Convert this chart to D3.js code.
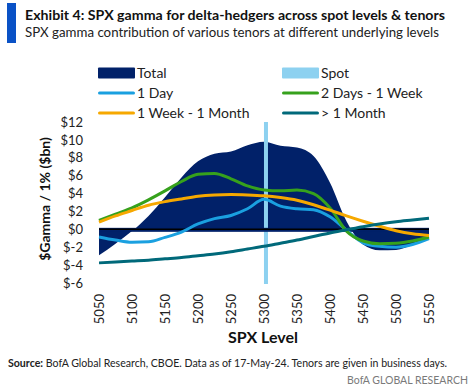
<!DOCTYPE html>
<html>
<head>
<meta charset="utf-8">
<script src="https://cdn.jsdelivr.net/npm/d3@7"></script>
<style>
  body { margin: 0; background: #fff; }
  text { font-family: Lato, "Open Sans", sans-serif; }
</style>
</head>
<body>
<div id="chart"></div>
<script>
// SPX levels (x) and the per-tenor gamma, $bn per 1%
const levels = [5050, 5075, 5100, 5125, 5150, 5175, 5200, 5225, 5250, 5275, 5300,
                5325, 5350, 5375, 5400, 5425, 5450, 5475, 5500, 5525, 5550];
const total = [-2.9, -1.6, -0.2, 1.5, 3.6, 5.8, 7.6, 8.45, 8.7, 9.4, 9.8,
               9.35, 9.15, 8.2, 5.2, 0.9, -1.7, -2.35, -2.3, -1.75, -0.95];
const oneDay = [-0.85, -1.2, -1.45, -1.4, -0.9, -0.3, 0.6, 1.2, 1.55, 2.3, 3.35,
                2.6, 2.3, 2.2, 1.4, -0.1, -1.5, -1.9, -2.0, -1.7, -1.05];
const twoDaysOneWeek = [1.0, 1.7, 2.4, 3.3, 4.3, 5.35, 6.15, 6.25, 5.65, 4.85, 4.4,
                        4.3, 4.4, 4.0, 2.4, -0.2, -1.3, -1.6, -1.55, -1.3, -0.85];
const oneWeekOneMonth = [0.8, 1.5, 2.1, 2.7, 3.1, 3.4, 3.7, 3.85, 3.9, 3.85, 3.75,
                         3.55, 3.25, 2.75, 2.15, 1.5, 0.9, 0.35, -0.15, -0.5, -0.7];
const overOneMonth = [-3.75, -3.65, -3.55, -3.45, -3.3, -3.15, -2.95, -2.75, -2.5, -2.2, -1.9,
                      -1.55, -1.2, -0.8, -0.4, -0.05, 0.3, 0.6, 0.85, 1.05, 1.25];
const spot = 5303;
const yTicks = [-6, -4, -2, 0, 2, 4, 6, 8, 10, 12];
const xTicks = [5050, 5100, 5150, 5200, 5250, 5300, 5350, 5400, 5450, 5500, 5550];

const series = [
    {name: '1 Day', values: oneDay, color: '#1aa0e0'},
    {name: '2 Days - 1 Week', values: twoDaysOneWeek, color: '#36a11c'},
    {name: '1 Week - 1 Month', values: oneWeekOneMonth, color: '#f6a800'},
    {name: '> 1 Month', values: overOneMonth, color: '#00697a'}
];
const navy = '#012169', spotColor = '#8dd1f0';

const width = 473, height = 391;
const svg = d3.select('#chart').append('svg')
    .attr('width', width)
    .attr('height', height);

// header
svg.append('rect').attr('x', 7).attr('y', 3).attr('width', 9).attr('height', 40).attr('fill', '#0a52c6');
svg.append('text').attr('x', 25).attr('y', 20)
    .attr('font-size', 14).attr('font-weight', 'bold').attr('fill', '#111')
    .attr('textLength', 420).attr('lengthAdjust', 'spacingAndGlyphs')
    .text('Exhibit 4: SPX gamma for delta-hedgers across spot levels & tenors');
svg.append('text').attr('x', 25).attr('y', 37)
    .attr('font-size', 14).attr('fill', '#222')
    .attr('textLength', 414).attr('lengthAdjust', 'spacingAndGlyphs')
    .text('SPX gamma contribution of various tenors at different underlying levels');

const x = d3.scaleLinear().domain([5050, 5550]).range([99, 429]);
const y = d3.scaleLinear().domain([-6, 12]).range([283, 122]);

// total area
svg.append('path')
    .datum(levels.map((l, i) => [l, total[i]]))
    .attr('fill', navy)
    .attr('d', d3.area().x(d => x(d[0])).y0(y(0)).y1(d => y(d[1])).curve(d3.curveMonotoneX));

// spot marker
svg.append('line')
    .attr('x1', x(spot)).attr('x2', x(spot))
    .attr('y1', y(12)).attr('y2', y(-6) + 1)
    .attr('stroke', spotColor).attr('stroke-width', 4);

// zero baseline
svg.append('rect')
    .attr('x', x(5050)).attr('width', x(5550) - x(5050))
    .attr('y', y(0) - 1.5).attr('height', 4)
    .attr('fill', navy);
svg.append('line')
    .attr('x1', x(5050)).attr('x2', x(5550))
    .attr('y1', y(0)).attr('y2', y(0))
    .attr('stroke', '#000').attr('stroke-width', 1.5);

const line = d3.line().x(d => x(d[0])).y(d => y(d[1])).curve(d3.curveMonotoneX);
series.forEach(s => {
    svg.append('path')
        .datum(levels.map((l, i) => [l, s.values[i]]))
        .attr('fill', 'none')
        .attr('stroke', s.color)
        .attr('stroke-width', 3)
        .attr('d', line);
});

// y axis
const yAxis = svg.append('g')
    .attr('transform', 'translate(83,0)')
    .call(d3.axisLeft(y).tickValues(yTicks).tickSize(0).tickPadding(0)
        .tickFormat(d => '$' + d));
yAxis.select('.domain').remove();
yAxis.selectAll('text').attr('font-size', 13).attr('fill', '#222')
    .attr('font-family', 'Lato, sans-serif');

svg.append('text')
    .attr('transform', 'translate(50,199) rotate(-90)')
    .attr('text-anchor', 'middle')
    .attr('font-size', 14).attr('font-weight', 'bold').attr('fill', '#111')
    .text('$Gamma / 1% ($bn)');

// x axis
const xAxis = svg.append('g')
    .attr('transform', 'translate(0,294)')
    .call(d3.axisBottom(x).tickValues(xTicks).tickSize(0).tickPadding(0)
        .tickFormat(d3.format('d')));
xAxis.select('.domain').remove();
xAxis.selectAll('text')
    .attr('font-size', 13).attr('fill', '#222')
    .attr('font-family', 'Lato, sans-serif')
    .attr('text-anchor', 'end')
    .attr('transform', 'rotate(-90)')
    .attr('x', 0).attr('y', 0).attr('dy', '0.35em');

svg.append('text')
    .attr('x', 263).attr('y', 343)
    .attr('text-anchor', 'middle')
    .attr('font-size', 16).attr('font-weight', 'bold').attr('fill', '#111')
    .text('SPX Level');

// legend
const legend = [
    {name: 'Total', color: navy, box: true, col: 0, row: 0},
    {name: 'Spot', color: spotColor, box: true, col: 1, row: 0},
    {name: series[0].name, color: series[0].color, col: 0, row: 1},
    {name: series[1].name, color: series[1].color, col: 1, row: 1},
    {name: series[2].name, color: series[2].color, col: 0, row: 2},
    {name: series[3].name, color: series[3].color, col: 1, row: 2}
];
const lg = svg.append('g').selectAll('g').data(legend).enter().append('g')
    .attr('transform', d => `translate(${d.col ? 282 : 98},${73 + d.row * 20})`);
lg.append('rect')
    .attr('x', 0).attr('width', 37)
    .attr('y', d => d.box ? -5.5 : -1.5)
    .attr('height', d => d.box ? 11 : 3)
    .attr('rx', d => d.box ? 1 : 1.5)
    .attr('fill', d => d.color);
lg.append('text')
    .attr('x', 39).attr('dy', '0.35em')
    .attr('font-size', 14).attr('fill', '#222')
    .text(d => d.name);

// footer
const src = svg.append('text').attr('x', 8).attr('y', 367)
    .attr('font-size', 10.5).attr('fill', '#222')
    .attr('textLength', 439).attr('lengthAdjust', 'spacingAndGlyphs');
src.append('tspan').attr('font-weight', 'bold').text('Source:');
src.append('tspan').text(' BofA Global Research, CBOE. Data as of 17-May-24. Tenors are given in business days.');

svg.append('text').attr('x', 468).attr('y', 384)
    .attr('text-anchor', 'end')
    .attr('font-size', 10.5).attr('fill', '#7a7a7a')
    .text('BofA GLOBAL RESEARCH');
</script>
</body>
</html>
